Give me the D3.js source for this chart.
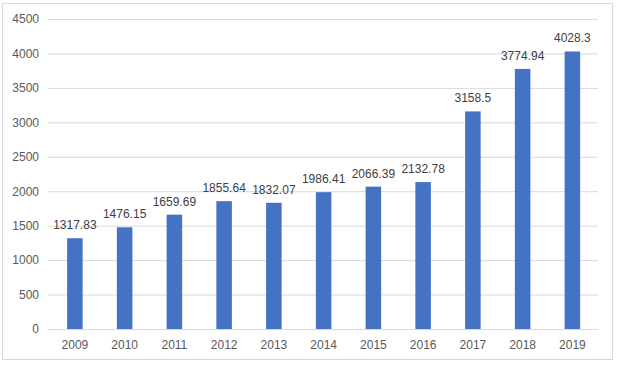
<!DOCTYPE html>
<html>
<head>
<meta charset="utf-8">
<script src="https://cdn.jsdelivr.net/npm/d3@7"></script>
<style>
  body { margin: 0; background: #fff; }
</style>
</head>
<body>
<div id="viz"></div>
<script>
const years = ["2009", "2010", "2011", "2012", "2013", "2014", "2015", "2016", "2017", "2018", "2019"];
const values = [1317.83, 1476.15, 1659.69, 1855.64, 1832.07, 1986.41, 2066.39, 2132.78, 3158.5, 3774.94, 4028.3];
const yTicks = [0, 500, 1000, 1500, 2000, 2500, 3000, 3500, 4000, 4500];

const width = 619;
const height = 367;
const margin = { top: 19, right: 21, bottom: 38, left: 48 };

const svg = d3.select("#viz")
    .append("svg")
    .attr("width", width)
    .attr("height", height)
    .style("font", "12px 'Liberation Sans', Arial, sans-serif");

// chart frame
svg.append("rect")
    .attr("x", 2.5)
    .attr("y", 3.5)
    .attr("width", 610)
    .attr("height", 356)
    .attr("fill", "#fff")
    .attr("stroke", "#d9d9d9");

const x = d3.scaleBand()
    .domain(years)
    .range([50, 597.25])
    .paddingInner(0.688)
    .paddingOuter(0.344);

const y = d3.scaleLinear()
    .domain([0, 4500])
    .range([height - margin.bottom, margin.top]);

// gridlines + y labels
const yAxisG = svg.append("g")
    .attr("transform", `translate(${margin.left},0)`)
    .call(d3.axisLeft(y).tickValues(yTicks).tickFormat(d3.format("d"))
        .tickSize(-(width - margin.left - margin.right)).tickPadding(9));
yAxisG.select(".domain").remove();
yAxisG.selectAll(".tick line").attr("stroke", "#d9d9d9");
yAxisG.selectAll(".tick text").attr("fill", "#595959").style("font-size", "12px");

// bars
svg.append("g")
    .selectAll("rect")
    .data(values)
    .join("rect")
    .attr("x", (d, i) => x(years[i]))
    .attr("y", d => y(d))
    .attr("width", x.bandwidth())
    .attr("height", d => y(0) - y(d))
    .attr("fill", "#4472c4");

// value labels
svg.append("g")
    .selectAll("text")
    .data(values)
    .join("text")
    .attr("x", (d, i) => x(years[i]) + x.bandwidth() / 2)
    .attr("y", d => y(d) - 9)
    .attr("text-anchor", "middle")
    .attr("fill", "#404040")
    .style("font-size", "12px")
    .text(d => d);

// x axis
const xAxisG = svg.append("g")
    .attr("transform", `translate(0,${y(0)})`)
    .call(d3.axisBottom(x).tickSize(0).tickPadding(11));
xAxisG.select(".domain").remove();
xAxisG.selectAll(".tick text").attr("fill", "#595959").style("font-size", "12px");
svg.append("line")
    .attr("x1", margin.left)
    .attr("x2", width - margin.right)
    .attr("y1", y(0) + 0.5)
    .attr("y2", y(0) + 0.5)
    .attr("stroke", "#d9d9d9");
</script>
</body>
</html>
